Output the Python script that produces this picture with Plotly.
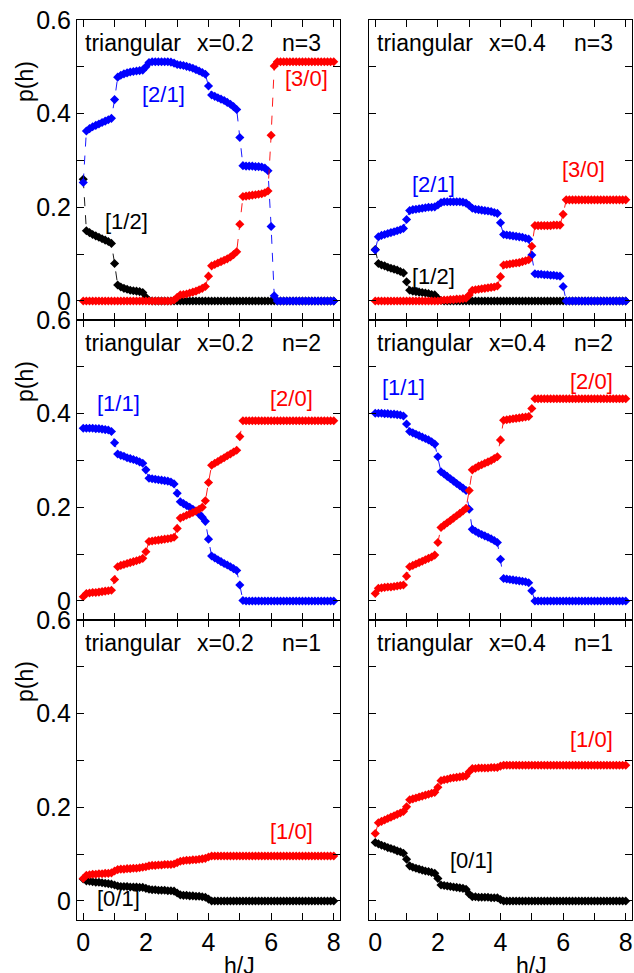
import plotly.graph_objects as go
from plotly.subplots import make_subplots

# field values h/J (sampling grid)
H = [round(0.1 * i, 1) for i in range(81)]

# ---------- triangular x=0.2, n=3 ----------
P1_BLACK = ([0.260, 0.150, 0.146, 0.142, 0.139, 0.136, 0.133, 0.130, 0.127, 0.123]
            + [0.080, 0.034, 0.030, 0.027, 0.025, 0.023, 0.022, 0.021, 0.020, 0.018]
            + [0.008, 0.001] + [0.0] * 59)
P1_BLUE = ([0.253, 0.363, 0.368, 0.372, 0.375, 0.378, 0.381, 0.384, 0.387, 0.390]
           + [0.430, 0.478, 0.482, 0.485, 0.487, 0.489, 0.490, 0.491, 0.492, 0.493]
           + [0.500, 0.509, 0.511, 0.511, 0.511, 0.511, 0.511, 0.511, 0.510, 0.508]
           + [0.505, 0.504, 0.503, 0.501, 0.499, 0.497, 0.494, 0.491, 0.488, 0.484]
           + [0.459, 0.440, 0.437, 0.434, 0.431, 0.428, 0.424, 0.420, 0.415, 0.409]
           + [0.349, 0.289, 0.288, 0.288, 0.288, 0.287, 0.287, 0.286, 0.284, 0.278]
           + [0.159, 0.011] + [0.0] * 19)
P1_RED = ([0.0] * 29 + [0.002]
          + [0.008, 0.013, 0.014, 0.015, 0.017, 0.019, 0.021, 0.024, 0.027, 0.031]
          + [0.053, 0.075, 0.078, 0.081, 0.084, 0.087, 0.090, 0.094, 0.099, 0.105]
          + [0.164, 0.223, 0.224, 0.225, 0.226, 0.227, 0.228, 0.229, 0.231, 0.235]
          + [0.354, 0.502] + [0.511] * 19)

# ---------- triangular x=0.4, n=3 ----------
P2_BLACK = ([0.110, 0.080, 0.077, 0.075, 0.072, 0.070, 0.068, 0.066, 0.063, 0.060]
            + [0.041, 0.023, 0.021, 0.020, 0.019, 0.018, 0.017, 0.016, 0.014, 0.013]
            + [0.006, 0.001] + [0.0] * 59)
P2_BLUE = ([0.109, 0.137, 0.140, 0.142, 0.144, 0.146, 0.148, 0.150, 0.152, 0.155]
           + [0.174, 0.193, 0.195, 0.196, 0.197, 0.198, 0.199, 0.200, 0.200, 0.201]
           + [0.205, 0.210, 0.212, 0.212, 0.212, 0.212, 0.212, 0.212, 0.211, 0.209]
           + [0.204, 0.198, 0.196, 0.195, 0.194, 0.193, 0.192, 0.191, 0.189, 0.187]
           + [0.167, 0.142, 0.141, 0.140, 0.139, 0.138, 0.137, 0.136, 0.134, 0.132]
           + [0.098, 0.058, 0.057, 0.057, 0.056, 0.056, 0.055, 0.055, 0.054, 0.053]
           + [0.031] + [0.0] * 20)
P2_RED = ([0.0] * 21 + [0.001, 0.002, 0.002, 0.003, 0.003, 0.004, 0.004, 0.005, 0.006]
          + [0.013, 0.023, 0.024, 0.025, 0.026, 0.027, 0.028, 0.029, 0.030, 0.032]
          + [0.052, 0.077, 0.078, 0.079, 0.080, 0.081, 0.082, 0.084, 0.086, 0.088]
          + [0.117, 0.161, 0.161, 0.161, 0.161, 0.161, 0.161, 0.162, 0.162, 0.162]
          + [0.185] + [0.216] * 20)

# ---------- triangular x=0.2, n=2 ----------
P3_BLUE = ([0.369, 0.369, 0.369, 0.369, 0.368, 0.368, 0.367, 0.366, 0.365, 0.362]
           + [0.338, 0.314, 0.311, 0.309, 0.306, 0.304, 0.302, 0.300, 0.297, 0.294]
           + [0.280, 0.262, 0.261, 0.260, 0.259, 0.258, 0.257, 0.256, 0.254, 0.250]
           + [0.230, 0.212, 0.208, 0.204, 0.200, 0.196, 0.192, 0.186, 0.179, 0.170]
           + [0.132, 0.096, 0.092, 0.088, 0.084, 0.080, 0.077, 0.073, 0.069, 0.065]
           + [0.034, 0.001] + [0.0] * 29)
P3_RED = ([0.009, 0.016, 0.017, 0.018, 0.018, 0.019, 0.020, 0.021, 0.022, 0.023]
          + [0.046, 0.073, 0.076, 0.078, 0.080, 0.082, 0.084, 0.086, 0.088, 0.091]
          + [0.105, 0.127, 0.128, 0.129, 0.130, 0.131, 0.132, 0.133, 0.134, 0.136]
          + [0.155, 0.177, 0.180, 0.183, 0.186, 0.189, 0.192, 0.196, 0.200, 0.214]
          + [0.253, 0.290, 0.294, 0.298, 0.302, 0.306, 0.310, 0.314, 0.318, 0.322]
          + [0.351] + [0.385] * 30)

# ---------- triangular x=0.4, n=2 ----------
P4_BLUE = ([0.401, 0.401, 0.401, 0.400, 0.400, 0.399, 0.399, 0.398, 0.397, 0.395]
           + [0.378, 0.362, 0.359, 0.356, 0.353, 0.350, 0.347, 0.344, 0.340, 0.335]
           + [0.308, 0.276, 0.271, 0.266, 0.261, 0.256, 0.251, 0.246, 0.241, 0.236]
           + [0.196, 0.153, 0.149, 0.145, 0.142, 0.139, 0.136, 0.133, 0.129, 0.125]
           + [0.089, 0.048, 0.047, 0.046, 0.045, 0.044, 0.043, 0.042, 0.041, 0.039]
           + [0.022] + [0.0] * 30)
P4_RED = ([0.016, 0.027, 0.028, 0.029, 0.030, 0.030, 0.031, 0.032, 0.033, 0.034]
          + [0.053, 0.073, 0.076, 0.079, 0.082, 0.085, 0.088, 0.091, 0.094, 0.098]
          + [0.125, 0.157, 0.162, 0.167, 0.172, 0.177, 0.182, 0.187, 0.192, 0.198]
          + [0.236, 0.280, 0.284, 0.288, 0.291, 0.294, 0.297, 0.300, 0.304, 0.308]
          + [0.344, 0.386, 0.387, 0.388, 0.389, 0.390, 0.391, 0.392, 0.393, 0.394]
          + [0.411] + [0.432] * 30)

# ---------- triangular x=0.2, n=1 ----------
P5_BLACK = ([0.047, 0.043, 0.042, 0.041, 0.040, 0.040, 0.039, 0.038, 0.037, 0.036]
            + [0.034, 0.032, 0.031, 0.031, 0.031, 0.030, 0.030, 0.030, 0.029, 0.029]
            + [0.027, 0.025, 0.024, 0.024, 0.023, 0.023, 0.023, 0.022, 0.022, 0.021]
            + [0.017, 0.013, 0.012, 0.012, 0.011, 0.011, 0.010, 0.010, 0.009, 0.008]
            + [0.004] + [0.0] * 40)
P5_RED = ([0.048, 0.055, 0.056, 0.057, 0.057, 0.058, 0.058, 0.059, 0.059, 0.060]
          + [0.064, 0.067, 0.068, 0.068, 0.069, 0.069, 0.070, 0.070, 0.071, 0.072]
          + [0.073, 0.075, 0.076, 0.076, 0.077, 0.077, 0.078, 0.078, 0.078, 0.079]
          + [0.082, 0.085, 0.086, 0.087, 0.087, 0.088, 0.088, 0.089, 0.090, 0.091]
          + [0.094] + [0.096] * 40)

# ---------- triangular x=0.4, n=1 ----------
P6_BLACK = ([0.125, 0.122, 0.119, 0.117, 0.114, 0.112, 0.110, 0.107, 0.105, 0.102]
            + [0.089, 0.075, 0.072, 0.070, 0.068, 0.066, 0.064, 0.063, 0.061, 0.059]
            + [0.048, 0.034, 0.033, 0.032, 0.031, 0.030, 0.029, 0.028, 0.027, 0.025]
            + [0.015, 0.009, 0.009, 0.008, 0.008, 0.008, 0.008, 0.007, 0.007, 0.007]
            + [0.003] + [0.0] * 40)
P6_RED = ([0.144, 0.167, 0.170, 0.173, 0.176, 0.179, 0.182, 0.185, 0.188, 0.191]
          + [0.201, 0.216, 0.218, 0.220, 0.222, 0.224, 0.226, 0.228, 0.230, 0.232]
          + [0.243, 0.257, 0.259, 0.260, 0.262, 0.263, 0.264, 0.265, 0.266, 0.267]
          + [0.276, 0.283, 0.283, 0.284, 0.284, 0.284, 0.284, 0.285, 0.285, 0.285]
          + [0.288] + [0.290] * 40)

X_VALUES = ["x=0.2", "x=0.4"]
N_VALUES = ["n=3", "n=2", "n=1"]

BLACK, BLUE, RED = "#000000", "#0000ff", "#ff0000"

# (row, col, [(series, color)], [(label, h, p, color)])
PANELS = [
    (1, 1, [(P1_BLACK, BLACK), (P1_BLUE, BLUE), (P1_RED, RED)],
     [("[2/1]", 2.55, 0.44, BLUE), ("[1/2]", 1.38, 0.169, BLACK), ("[3/0]", 7.12, 0.475, RED)]),
    (1, 2, [(P2_BLACK, BLACK), (P2_BLUE, BLUE), (P2_RED, RED)],
     [("[2/1]", 1.86, 0.248, BLUE), ("[1/2]", 1.86, 0.052, BLACK), ("[3/0]", 6.66, 0.28, RED)]),
    (2, 1, [(P3_BLUE, BLUE), (P3_RED, RED)],
     [("[1/1]", 1.14, 0.422, BLUE), ("[2/0]", 6.64, 0.433, RED)]),
    (2, 2, [(P4_BLUE, BLUE), (P4_RED, RED)],
     [("[1/1]", 0.9, 0.456, BLUE), ("[2/0]", 6.9, 0.468, RED)]),
    (3, 1, [(P5_BLACK, BLACK), (P5_RED, RED)],
     [("[1/0]", 6.64, 0.148, RED), ("[0/1]", 1.14, 0.006, BLACK)]),
    (3, 2, [(P6_BLACK, BLACK), (P6_RED, RED)],
     [("[1/0]", 6.9, 0.344, RED), ("[0/1]", 3.07, 0.086, BLACK)]),
]

W, HT = 634, 973
FONT = "Liberation Sans, Arial, sans-serif"

fig = make_subplots(rows=3, cols=2)

XDOM = {1: [77 / W, 340 / W], 2: [369 / W, 632 / W]}
YDOM = {1: [1 - 320 / HT, 1 - 20 / HT], 2: [1 - 620 / HT, 1 - 320 / HT], 3: [1 - 920 / HT, 1 - 620 / HT]}

annotations = []
for idx, (r, c, series, labels) in enumerate(PANELS):
    for ys, col in series:
        assert len(ys) == len(H)
        fig.add_trace(go.Scatter(
            x=H, y=ys, mode="lines+markers",
            line=dict(color=col, width=0.9, dash="dash"),
            marker=dict(symbol="diamond", size=7, color=col, line=dict(width=0)),
            showlegend=False, hoverinfo="skip"), row=r, col=c)
    k = idx + 1
    xr = "x" if k == 1 else f"x{k}"
    yr = "y" if k == 1 else f"y{k}"
    for txt, hx, py, col in labels:
        annotations.append(dict(text=txt, x=hx, y=py, xref=xr, yref=yr, showarrow=False,
                                font=dict(family=FONT, size=22, color=col)))
    # panel title
    xs = X_VALUES[c - 1]
    ns = N_VALUES[r - 1]
    for txt, hx in (("triangular", 0.0), (xs, 3.56), (ns, 6.28)):
        annotations.append(dict(text=txt, x=hx, y=0.551, xref=xr, yref=yr, xanchor="left",
                                yanchor="middle", showarrow=False,
                                font=dict(family=FONT, size=23, color="black")))

    xaxis_kw = dict(domain=XDOM[c], range=[-0.2, 8.2], showline=True, mirror="ticks",
                    linecolor="black", linewidth=1.2, ticks="inside", ticklen=7,
                    tickwidth=1, tickcolor="black", showgrid=False, zeroline=False,
                    automargin=False,
                    tickvals=list(range(9)),
                    ticktext=["0", "", "2", "", "4", "", "6", "", "8"] if r == 3 else [""] * 9,
                    tickfont=dict(family=FONT, size=25, color="black"))
    yaxis_kw = dict(domain=YDOM[r], range=[-0.0406, 0.6], showline=True, mirror="ticks",
                    linecolor="black", linewidth=1.2, ticks="inside", ticklen=7,
                    tickwidth=1, tickcolor="black", showgrid=False, zeroline=False,
                    automargin=False,
                    tickvals=[0, 0.1, 0.2, 0.3, 0.4, 0.5, 0.6],
                    ticktext=["0", "", "0.2", "", "0.4", "", "0.6"] if c == 1 else [""] * 7,
                    tickfont=dict(family=FONT, size=25, color="black"))
    fig.update_xaxes(row=r, col=c, **xaxis_kw)
    fig.update_yaxes(row=r, col=c, **yaxis_kw)

# axis titles
for r, ypx in ((1, 82), (2, 382), (3, 682)):
    annotations.append(dict(text="p(h)", x=25 / W, y=1 - ypx / HT, xref="paper", yref="paper",
                            xanchor="center", yanchor="middle",
                            textangle=-90, showarrow=False,
                            font=dict(family=FONT, size=23, color="black")))
for xr in ("x5", "x6"):
    annotations.append(dict(text="h/J", x=5, y=1 - 951 / HT, xref=xr, yref="paper",
                            yanchor="top", showarrow=False,
                            font=dict(family=FONT, size=23, color="black")))

fig.update_layout(width=W, height=HT, margin=dict(l=0, r=0, t=0, b=0),
                  paper_bgcolor="white", plot_bgcolor="white",
                  annotations=annotations, showlegend=False)

fig.write_html("out.html")
